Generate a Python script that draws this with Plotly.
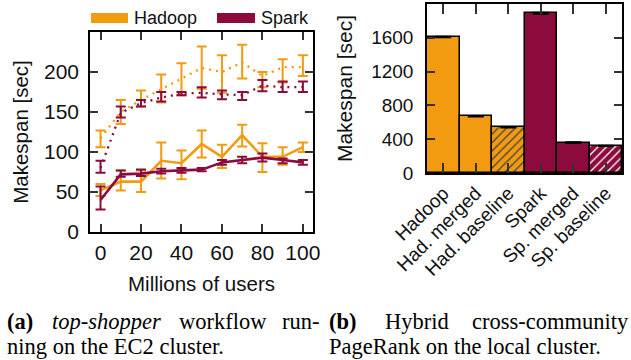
import plotly.graph_objects as go

# ---------------- data: (a) top-shopper on EC2 ----------------
users = [0, 10, 20, 30, 40, 50, 60, 70, 80, 90, 100]

hadoop_dot_mean = [117, 150, 165, 178, 192, 205, 200, 212, 195, 206, 206]
hadoop_dot_hi   = [127, 165, 177, 197, 211, 232, 221, 234, 200, 216, 221]
hadoop_dot_lo   = [106, 135, 157, 162, 171, 179, 174, 192, 181, 187, 195]

spark_dot_mean = [80, 149, 161, 168, 173, 174, 172, 171, 183, 181, 181]
spark_dot_hi   = [89, 157, 165, 175, 175, 181, 177, 175, 190, 188, 188]
spark_dot_lo   = [74, 143, 157, 163, 171, 168, 166, 165, 176, 175, 175]

hadoop_sol_mean = [52, 63, 63, 89, 86, 110, 94, 121, 94, 94, 106]
hadoop_sol_hi   = [60, 77, 77, 112, 102, 127, 109, 134, 111, 106, 112]
hadoop_sol_lo   = [45, 52, 50, 67, 66, 93, 80, 107, 75, 84, 100]

spark_sol_mean = [40, 72, 73, 76, 77, 78, 87, 90, 93, 90, 87]
spark_sol_hi   = [57, 77, 78, 79, 80, 80, 90, 94, 98, 92, 90]
spark_sol_lo   = [28, 69, 70, 73, 74, 76, 84, 86, 88, 86, 84]

left_yticks = [0, 50, 100, 150, 200]
left_xticks = [0, 20, 40, 60, 80, 100]

# ---------------- data: (b) hybrid PageRank ----------------
bar_labels = ["Hadoop", "Had. merged", "Had. baseline", "Spark", "Sp. merged", "Sp. baseline"]
bar_values = [1610, 672, 541, 1890, 360, 320]
bar_errors = [6, 6, 5, 8, 8, 4]
bar_patterns = ["", "", "/", "", "", "/"]
right_yticks = [0, 400, 800, 1200, 1600]

ORANGE = "#F29A10"
MAROON = "#8C0A3C"
SANS = "Liberation Sans, Arial, sans-serif"
SERIF = "Liberation Serif, Times New Roman, serif"
W, H = 631, 360

fig = go.Figure()


def add_series(mean, hi, lo, color, dotted):
    fig.add_trace(go.Scatter(
        x=users, y=mean, mode="lines",
        line=dict(color=color, width=2.3 if dotted else 2.6,
                  dash="2px,5px" if dotted else "solid"),
        error_y=dict(type="data", symmetric=False,
                     array=[h - m for h, m in zip(hi, mean)],
                     arrayminus=[m - l for m, l in zip(mean, lo)],
                     color=color, thickness=2, width=5),
        showlegend=False, xaxis="x", yaxis="y"))


add_series(hadoop_dot_mean, hadoop_dot_hi, hadoop_dot_lo, ORANGE, True)
add_series(hadoop_sol_mean, hadoop_sol_hi, hadoop_sol_lo, ORANGE, False)
add_series(spark_dot_mean, spark_dot_hi, spark_dot_lo, MAROON, True)
add_series(spark_sol_mean, spark_sol_hi, spark_sol_lo, MAROON, False)

bar_colors = [ORANGE, ORANGE, ORANGE, MAROON, MAROON, MAROON]
fig.add_trace(go.Bar(
    x=bar_labels, y=bar_values, width=1,
    marker=dict(color=bar_colors, line=dict(color="black", width=1.5),
                pattern=dict(shape=bar_patterns, fgcolor="black", fillmode="overlay",
                             fgopacity=1, size=6, solidity=0.22)),
    error_y=dict(type="data", array=bar_errors, color="black", thickness=1.5, width=8),
    showlegend=False, xaxis="x2", yaxis="y2"))

axis_common = dict(showline=True, linecolor="black", linewidth=1.5, mirror="ticks",
                   ticks="inside", tickcolor="#333", tickwidth=1.5,
                   showgrid=False, zeroline=False, automargin=False)

fig.update_layout(
    width=W, height=H, margin=dict(l=0, r=0, t=0, b=0),
    paper_bgcolor="white", plot_bgcolor="white",
    font=dict(family=SANS, color="#111"),
    bargap=0,
    xaxis=dict(domain=[90 / W, 313 / W], range=[-5.2, 105], tickvals=left_xticks,
               ticklen=8, tickfont=dict(size=21), ticklabelstandoff=1,
               title=dict(text="Millions of users", font=dict(size=20.5), standoff=14),
               anchor="y", **axis_common),
    yaxis=dict(domain=[1 - 232 / H, 1 - 32 / H], range=[0, 250], tickvals=left_yticks,
               ticklen=8, tickfont=dict(size=21), ticklabelstandoff=5,
               title=dict(text="Makespan [sec]", font=dict(size=20.5), standoff=10),
               anchor="x", **axis_common),
    xaxis2=dict(domain=[427 / W, 622 / W], range=[-0.5, 5.5], tickangle=-45,
                ticklen=10, tickfont=dict(size=19),
                anchor="y2", **axis_common),
    yaxis2=dict(domain=[1 - 173 / H, 1 - 4 / H], range=[0, 2000], tickvals=right_yticks,
                ticklen=8, tickfont=dict(size=19), ticklabelstandoff=8,
                title=dict(text="Makespan [sec]", font=dict(size=21), standoff=13),
                anchor="x2", **axis_common),
)

# legend (manual, top-left panel)
shapes = []
annotations = []
for x0, x1, label, color in [(91, 128, "Hadoop", ORANGE), (217, 255, "Spark", MAROON)]:
    shapes.append(dict(type="rect", xref="paper", yref="paper",
                       x0=x0 / W, x1=x1 / W, y0=1 - 23 / H, y1=1 - 13 / H,
                       fillcolor=color, line=dict(width=0)))
    annotations.append(dict(text=label, xref="paper", yref="paper",
                            x=(x1 + 4) / W, y=1 - 18 / H, xanchor="left", yanchor="middle",
                            showarrow=False, font=dict(size=18, family=SANS, color="#111")))

# captions (justified first lines placed word by word)
cap_font = dict(size=22.5, family=SERIF, color="black")
captions = [
    ("<b>(a)</b>", 5, 321, "left"),
    ("<i>top-shopper</i>", 50, 321, "left"),
    ("workflow", 177, 321, "left"),
    ("run-", 322, 321, "right"),
    ("ning on the EC2 cluster.", 5, 346, "left"),
    ("<b>(b)</b>", 327, 321, "left"),
    ("Hybrid", 383, 321, "left"),
    ("cross-community", 631, 321, "right"),
    ("PageRank on the local cluster.", 327, 346, "left"),
]
for text, x, y, anc in captions:
    annotations.append(dict(text=text, xref="paper", yref="paper", x=x / W, y=1 - y / H,
                            xanchor=anc, yanchor="middle", showarrow=False, font=cap_font))

fig.update_layout(shapes=shapes, annotations=annotations)
fig.write_html("out.html")
